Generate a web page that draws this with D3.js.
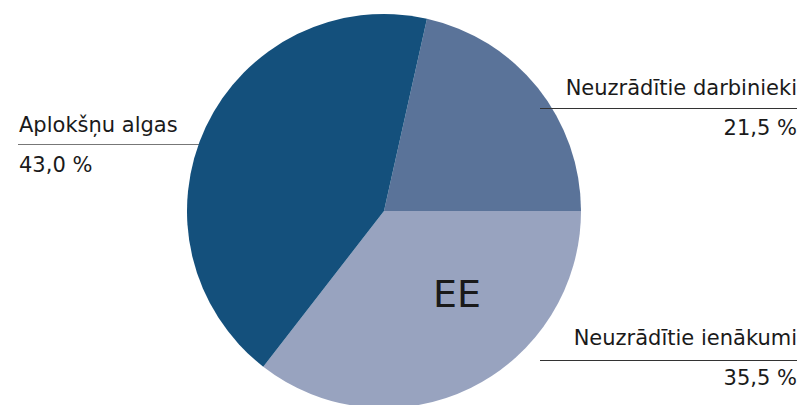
<!DOCTYPE html>
<html>
<head>
<meta charset="utf-8">
<script src="https://cdn.jsdelivr.net/npm/d3@7"></script>
<style>
body{margin:0;background:#fff}
text{font-family:"DejaVu Sans",Verdana,sans-serif;fill:#1a1a1a}
</style>
</head>
<body>
<svg></svg>
<script>
var screen = {width:802,height:405}

var categories = ["Neuzrādītie darbinieki","Neuzrādītie ienākumi","Aplokšņu algas"]
var values = [21.5,35.5,43.0]
var valueLabels = ["21,5 %","35,5 %","43,0 %"]
var colors = ["#5a7399","#98a3bf","#14507c"]

var svg = d3.select("svg")
    .attr("width",screen.width)
    .attr("height",screen.height)

var cx = 384, cy = 211, radius = 197
var start = 12.6*Math.PI/180

var pie = d3.pie().sort(null)
    .startAngle(start).endAngle(start+2*Math.PI)
var arc = d3.arc().innerRadius(0).outerRadius(radius)

var data = categories.map(function(c,i){return {name:c,value:values[i],label:valueLabels[i],color:colors[i]}})

// left leader line sits under the pie
svg.append("line")
    .attr("x1",18).attr("x2",200)
    .attr("y1",144.5).attr("y2",144.5)
    .attr("stroke","#777").attr("stroke-width",1)

var g = svg.append("g").attr("transform","translate("+cx+","+cy+")")
g.selectAll("path")
    .data(pie.value(function(d){return d.value})(data))
    .enter()
    .append("path")
    .attr("d",arc)
    .attr("fill",function(d){return d.data.color})

// label positions per slice
var labelPos = [
    {x:797,y:95,line:108.5,x1:540,x2:797,anchor:"end"},
    {x:797,y:345,line:360.5,x1:540,x2:797,anchor:"end"},
    {x:19,y:132,line:null,anchor:"start"}
]

data.forEach(function(d,i){
    var p = labelPos[i]
    if(p.line!=null){
        svg.append("line")
            .attr("x1",p.x1).attr("x2",p.x2)
            .attr("y1",p.line).attr("y2",p.line)
            .attr("stroke","#333").attr("stroke-width",1)
    }
    svg.append("text")
        .attr("x",p.x).attr("y",p.y)
        .attr("text-anchor",p.anchor)
        .attr("font-size",21)
        .text(d.name)
    svg.append("text")
        .attr("x",p.x).attr("y",p.y+40)
        .attr("text-anchor",p.anchor)
        .attr("font-size",21)
        .text(d.label)
})

svg.append("text")
    .attr("x",457).attr("y",307)
    .attr("text-anchor","middle")
    .attr("font-size",38)
    .text("EE")
</script>
</body>
</html>
